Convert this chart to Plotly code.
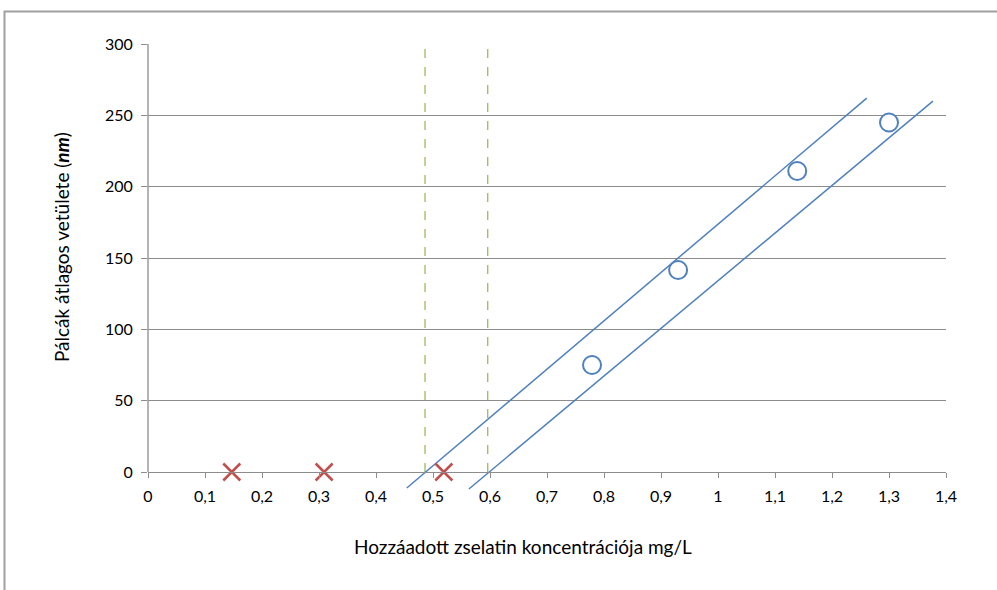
import plotly.graph_objects as go

# Data
circle_x = [0.779, 0.930, 1.139, 1.300]
circle_y = [75, 141.6, 211, 245]

cross_x = [0.147, 0.309, 0.519]
cross_y = [0, 0, 0]

upper_line_x = [0.454, 1.261]
upper_line_y = [-11.2, 262.1]
lower_line_x = [0.563, 1.377]
lower_line_y = [-11.9, 260.0]

dash1_x = [0.486, 0.486]
dash2_x = [0.596, 0.596]
dash_y = [0, 300]

x_tickvals = [0, 0.1, 0.2, 0.3, 0.4, 0.5, 0.6, 0.7, 0.8, 0.9, 1.0, 1.1, 1.2, 1.3, 1.4]
x_ticktext = ["0", "0,1", "0,2", "0,3", "0,4", "0,5", "0,6", "0,7", "0,8", "0,9", "1", "1,1", "1,2", "1,3", "1,4"]
y_tickvals = [0, 50, 100, 150, 200, 250, 300]

x_title = "Hozzáadott zselatin koncentrációja mg/L"
y_title = "Pálcák átlagos vetülete (<b><i>nm</i></b>)"

blue = "#4f81bd"
red = "#c0504d"
green = "#9bbb59"
axis_gray = "#8c8c8c"

# plot area: y = 0 sits 18 px above the bottom of the plotting region
PLOT_W, PLOT_H = 798, 446
Y_MIN = -18 / (428 / 300)
zero_frac = 18 / PLOT_H

fig = go.Figure()

for dx in (dash1_x, dash2_x):
    fig.add_trace(go.Scatter(x=dx, y=dash_y, mode="lines",
                             line=dict(color=green, width=1.3, dash="dash"),
                             showlegend=False, hoverinfo="skip"))

fig.add_trace(go.Scatter(x=upper_line_x, y=upper_line_y, mode="lines",
                         line=dict(color=blue, width=1.5), showlegend=False))
fig.add_trace(go.Scatter(x=lower_line_x, y=lower_line_y, mode="lines",
                         line=dict(color=blue, width=1.5), showlegend=False))

fig.add_trace(go.Scatter(x=cross_x, y=cross_y, mode="markers",
                         marker=dict(symbol="x-thin", size=17, line=dict(color=red, width=2.5)),
                         showlegend=False, cliponaxis=False))

fig.add_trace(go.Scatter(x=circle_x, y=circle_y, mode="markers",
                         marker=dict(symbol="circle", size=18, color="white",
                                     line=dict(color=blue, width=2)),
                         showlegend=False, cliponaxis=False))

tick_font = dict(family="Lato, sans-serif", size=16, color="#000000")
title_font = dict(family="Lato, sans-serif", size=19, color="#000000")

fig.update_layout(
    width=997, height=590,
    margin=dict(l=148, r=51, t=44, b=100),
    paper_bgcolor="white", plot_bgcolor="white",
    font=tick_font,
    xaxis=dict(range=[0, 1.4], tickvals=x_tickvals, ticktext=x_ticktext,
               showgrid=False, zeroline=False, showline=True, linecolor=axis_gray, linewidth=1.3,
               ticks="outside", ticklen=5, tickcolor=axis_gray, tickwidth=1.3,
               ticklabelstandoff=5,
               tickfont=tick_font, anchor="free", position=zero_frac),
    yaxis=dict(range=[Y_MIN, 300], tickvals=y_tickvals,
               showgrid=True, gridcolor=axis_gray, gridwidth=1.3,
               zeroline=False, showline=False,
               ticks="outside", ticklen=6, tickcolor=axis_gray, tickwidth=1.3,
               ticklabelstandoff=5,
               tickfont=tick_font),
    annotations=[
        dict(text=x_title, xref="paper", yref="paper",
             x=(522.5 - 148) / PLOT_W, y=-(546 - 490) / PLOT_H,
             xanchor="center", yanchor="middle", showarrow=False, font=title_font),
        dict(text=y_title, xref="paper", yref="paper", textangle=-90,
             x=(61 - 148) / PLOT_W, y=(490 - 247) / PLOT_H,
             xanchor="center", yanchor="middle", showarrow=False, font=title_font),
    ],
    shapes=[
        dict(type="line", xref="paper", yref="paper", x0=0, x1=0, y0=zero_frac, y1=1,
             line=dict(color=axis_gray, width=1.3)),
        dict(type="rect", xref="paper", yref="paper",
             x0=(4.5 - 148) / PLOT_W, x1=(1005 - 148) / PLOT_W,
             y0=-(600 - 490) / PLOT_H, y1=1 + (44 - 11.5) / PLOT_H,
             line=dict(color="#a0a0a0", width=2), layer="below"),
    ],
)

fig.write_html("out.html")
